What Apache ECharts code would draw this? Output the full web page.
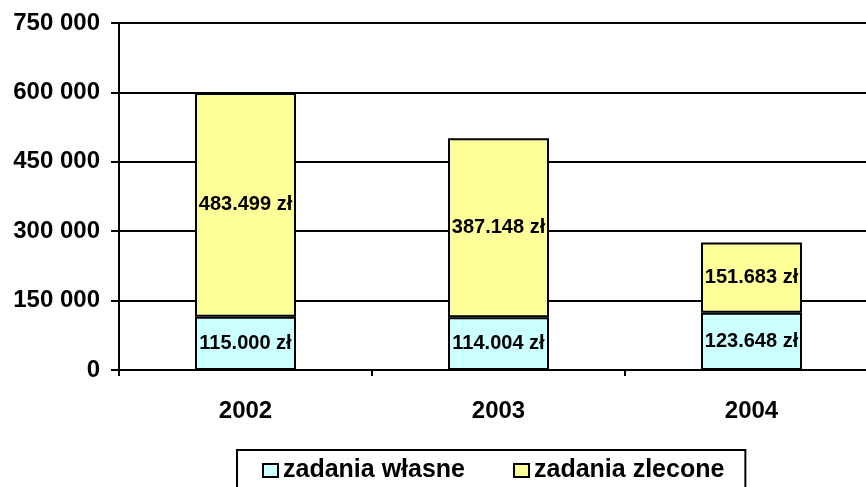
<!DOCTYPE html>
<html>
<head>
<meta charset="utf-8">
<script src="https://cdn.jsdelivr.net/npm/echarts@6/dist/echarts.min.js"></script>
<style>
  html, body { margin: 0; padding: 0; background: #fff; }
  #chart { width: 866px; height: 487px; }
</style>
</head>
<body>
<div id="chart"></div>
<script>
// lata i wartości (zł)
const years = ['2002', '2003', '2004'];
const wlasne = [115000, 114004, 123648];
const zlecone = [483499, 387148, 151683];
const yTicks = [0, 150000, 300000, 450000, 600000, 750000];

const font = 'Liberation Sans, Arial, sans-serif';

function fmtZl(v) {
  const s = String(v);
  return s.slice(0, s.length - 3) + '.' + s.slice(-3) + ' zł';
}
function fmtTick(v) {
  if (v === 0) return '0';
  const s = String(v);
  return s.slice(0, s.length - 3) + ' ' + s.slice(-3);
}

const chart = echarts.init(document.getElementById('chart'));
chart.setOption({
  animation: false,
  backgroundColor: '#fff',
  // wykres wychodzi poza prawą krawędź, jak w oryginale
  grid: { left: 119, width: 759, top: 23, bottom: 117, outerBoundsMode: 'none' },
  xAxis: {
    type: 'category',
    data: years,
    axisLine: { lineStyle: { color: '#000', width: 2 } },
    axisTick: { show: true, length: 6, lineStyle: { color: '#000', width: 2 } },
    axisLabel: { color: '#000', fontFamily: font, fontWeight: 'bold', fontSize: 24, margin: 29 }
  },
  yAxis: {
    type: 'value',
    min: yTicks[0],
    max: yTicks[yTicks.length - 1],
    interval: 150000,
    axisLine: { show: true, lineStyle: { color: '#000', width: 2 } },
    axisTick: { show: true, length: 8, lineStyle: { color: '#000', width: 2 } },
    splitLine: { lineStyle: { color: '#000', width: 2 } },
    axisLabel: { color: '#000', fontFamily: font, fontWeight: 'bold', fontSize: 24, margin: 19, formatter: fmtTick }
  },
  legend: {
    left: 237,
    top: 450,
    itemWidth: 15,
    itemHeight: 13,
    itemGap: 48,
    padding: [8, 21, 20, 25],
    borderColor: '#000',
    borderWidth: 2,
    icon: 'rect',
    textStyle: { color: '#000', fontFamily: font, fontWeight: 'bold', fontSize: 25 },
    data: ['zadania własne', 'zadania zlecone']
  },
  series: [
    {
      name: 'zadania własne',
      type: 'bar',
      stack: 'a',
      barWidth: 101,
      data: wlasne,
      itemStyle: { color: '#ccffff', borderColor: '#000', borderWidth: 2 },
      label: { show: true, position: 'inside', color: '#000', fontFamily: font, fontWeight: 'bold', fontSize: 20, formatter: p => fmtZl(p.value) }
    },
    {
      name: 'zadania zlecone',
      type: 'bar',
      stack: 'a',
      barWidth: 101,
      data: zlecone,
      itemStyle: { color: '#ffff99', borderColor: '#000', borderWidth: 2 },
      label: { show: true, position: 'inside', color: '#000', fontFamily: font, fontWeight: 'bold', fontSize: 20, formatter: p => fmtZl(p.value) }
    }
  ]
});
</script>
</body>
</html>
